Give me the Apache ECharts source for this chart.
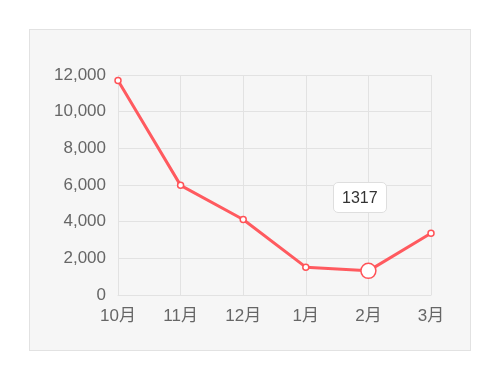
<!DOCTYPE html>
<html><head><meta charset="utf-8">
<script src="https://cdn.jsdelivr.net/npm/echarts@6/dist/echarts.min.js"></script>
<style>
html,body{margin:0;padding:0;background:#fff;}
#box{position:absolute;left:29px;top:29px;width:440px;height:320px;background:#f6f6f6;border:1px solid #e2e2e2;}
#c{position:absolute;left:0;top:0;width:500px;height:385px;}
</style></head>
<body><div id="box"></div><div id="c"></div>
<script>
const categories = ['10月','11月','12月','1月','2月','3月'];
const values = [11700, 5980, 4120, 1520, 1317, 3370];
const yTicks = [0, 2000, 4000, 6000, 8000, 10000, 12000];
const highlightIndex = 4;

const chart = echarts.init(document.getElementById('c'), null, {renderer:'canvas'});
const font = '"Liberation Sans", "Noto Sans CJK SC", sans-serif';
chart.setOption({
  animation:false,
  backgroundColor:'transparent',
  grid:{left:118, right:69, top:75, bottom:90},
  tooltip:{
    trigger:'item', alwaysShowContent:true, transitionDuration:0,
    formatter: p => String(p.value),
    position: () => [333, 182],
    backgroundColor:'#fff', borderColor:'#dedede', borderWidth:1, borderRadius:5,
    padding:[5,8],
    textStyle:{color:'#333', fontSize:16, fontFamily:font, lineHeight:19},
    extraCssText:'box-shadow:none;'
  },
  xAxis:{
    type:'category', data:categories, boundaryGap:false,
    axisLine:{lineStyle:{color:'#e2e2e2'}}, axisTick:{show:false},
    axisLabel:{color:'#666', fontSize:17, margin:13, fontFamily:font},
    splitLine:{show:true, lineStyle:{color:'#e2e2e2'}}
  },
  yAxis:{
    type:'value', min:yTicks[0], max:yTicks[yTicks.length-1], interval:2000,
    axisLine:{show:false}, axisTick:{show:false},
    axisLabel:{color:'#666', fontSize:17, margin:12, fontFamily:font,
      formatter: v => v.toLocaleString('en-US')},
    splitLine:{lineStyle:{color:'#e2e2e2'}}
  },
  series:[{
    type:'line', data:values,
    symbol:'circle', symbolSize:6,
    lineStyle:{color:'#ff5257', width:3},
    itemStyle:{color:'#fff', borderColor:'#ff5257', borderWidth:1.5},
    emphasis:{scale:2.5, lineStyle:{width:3}, itemStyle:{color:'#fff', borderColor:'#ff5257', borderWidth:1.5}}
  }]
});
chart.dispatchAction({type:'highlight', seriesIndex:0, dataIndex:highlightIndex});
chart.dispatchAction({type:'showTip', seriesIndex:0, dataIndex:highlightIndex});
</script></body></html>
